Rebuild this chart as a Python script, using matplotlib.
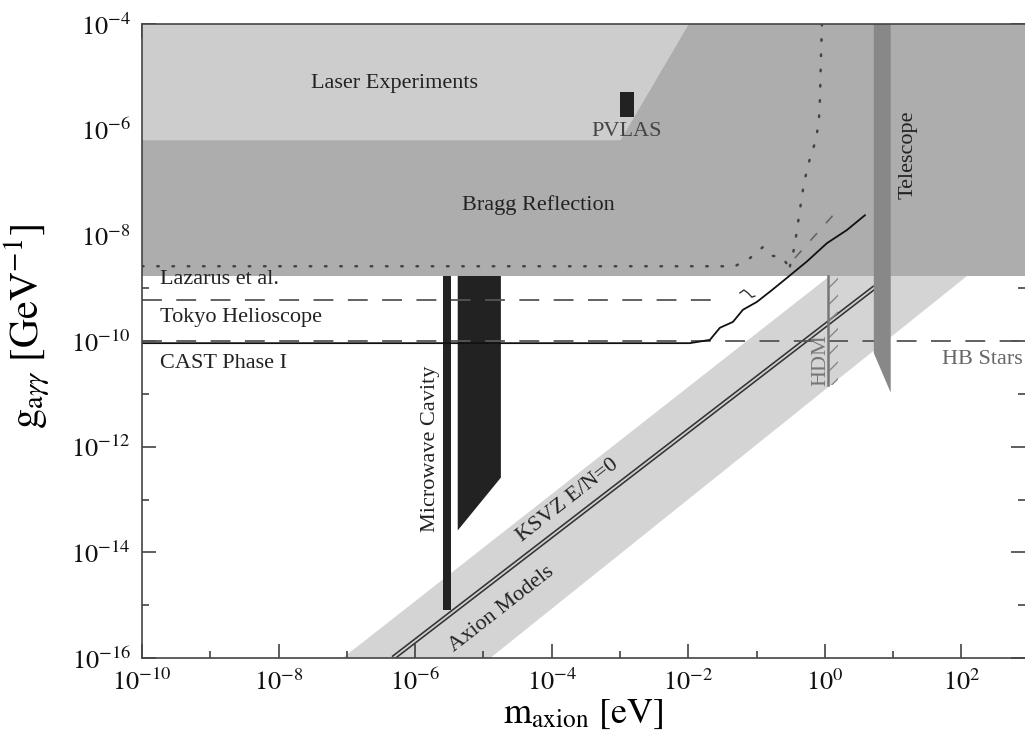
import numpy as np
import matplotlib
matplotlib.use("Agg")
import matplotlib.pyplot as plt
from matplotlib.ticker import FixedLocator, FuncFormatter, NullFormatter

plt.rcParams['font.family'] = ['Liberation Serif', 'DejaVu Serif']
plt.rcParams['mathtext.fontset'] = 'stix'
plt.rcParams['hatch.linewidth'] = 1.0

# ---------------- data ----------------
x_range = [1e-10, 10**2.93]
y_range = [1e-16, 1e-4]

# excluded region (Bragg reflection / Lazarus), full width
bragg_g_low = 1.7e-9
bragg_g_high = 1e-4

# laser experiments region (polygon)
laser_m = [1e-10, 1.02e-2, 1.02e-3, 1e-10]
laser_g = [1e-4, 1e-4, 6.3e-7, 6.3e-7]

# PVLAS box
pvlas_m = [1.0e-3, 1.6e-3]
pvlas_g = [1.7e-6, 5.1e-6]

# telescope polygon
tele_m = [5.2, 9.2, 9.2, 5.2]
tele_g = [1e-4, 1e-4, 1.05e-11, 5.9e-11]

# microwave cavity
cav1_m = [2.55e-6, 3.3e-6]
cav1_g = [8.1e-16, 1.7e-9]
cav2_m = [4.2e-6, 1.8e-5, 1.8e-5, 4.2e-6]
cav2_g = [1.7e-9, 1.7e-9, 2.6e-13, 2.6e-14]

# axion models band (upper-left edge and lower-right edge end points)
band_m = [10**-7.06, 10**0.07, 10**2.08, 10**-4.9]
band_g = [1e-16, 10**-8.77, 10**-8.77, 1e-16]

# KSVZ line
ksvz_m = [10**-6.325, 10**0.732]
ksvz_g = [1e-16, 10**-8.98]

# CAST phase I limit
cast_m = [1e-10, 1.05e-2, 2.07e-2, 2.9e-2, 4.5e-2, 6.3e-2, 0.101, 0.173, 0.287,
          0.545, 1.07, 2.1, 3.85]
cast_g = [9.1e-11, 9.1e-11, 1.05e-10, 1.78e-10, 2.3e-10, 3.9e-10, 5.5e-10,
          9.5e-10, 1.62e-9, 3.2e-9, 7.1e-9, 1.26e-8, 2.4e-8]

# Lazarus et al. (dotted)
laz_m = [1e-10, 0.048, 0.0798, 0.1236, 0.1675, 0.2344, 0.3076]
laz_g = [2.6e-9, 2.6e-9, 3.7e-9, 6.0e-9, 4.1e-9, 3.9e-9, 2.4e-9]

# dotted curve from top
dtop_m = [10**-0.044, 10**-0.059, 10**-0.073, 10**-0.088, 10**-0.132, 10**-0.205,
          10**-0.264, 10**-0.322, 10**-0.366, 10**-0.41, 10**-0.44, 10**-0.483,
          10**-0.527]
dtop_g = [1e-4, 10**-4.68, 10**-5.44, 10**-5.82, 10**-6.20, 10**-6.48,
          10**-6.76, 10**-7.14, 10**-7.52, 10**-7.90, 10**-8.18, 10**-8.43,
          10**-8.66]

# gray dashed segment
gd_m = [10**-0.44, 10**0.146]
gd_g = [10**-8.43, 10**-7.58]

# Tokyo helioscope (dashed)
tokyo_m = [1e-10, 0.032]
tokyo_g = [5.97e-10, 5.97e-10]
squig_m = [10**-1.245, 10**-1.186, 10**-1.128, 10**-1.069, 10**-1.025]
squig_g = [10**-9.09, 10**-9.035, 10**-9.09, 10**-9.17, 10**-9.15]

# HB stars (dashed)
hb_m = [1e-10, 10**2.93]
hb_g = [1e-10, 1e-10]

# HDM
hdm_m = 1.1
hdm_m_hatch = 1.55
hdm_g = [1.5e-11, 1.7e-9]

x_major = [1e-10, 1e-8, 1e-6, 1e-4, 1e-2, 1e0, 1e2]
x_minor = [1e-9, 1e-7, 1e-5, 1e-3, 1e-1, 1e1]
y_major = [1e-16, 1e-14, 1e-12, 1e-10, 1e-8, 1e-6, 1e-4]
y_minor = [1e-15, 1e-13, 1e-11, 1e-9, 1e-7, 1e-5]

# ---------------- figure ----------------
fig = plt.figure(figsize=(10.25, 7.46), dpi=100)
ax = fig.add_axes([142/1025, 88/746, 883/1025, 634/746])
ax.set_xscale('log')
ax.set_yscale('log')
ax.set_xlim(*x_range)
ax.set_ylim(*y_range)

# axion models band
ax.fill(band_m, band_g, color='#d4d4d4', lw=0, zorder=1)
# KSVZ double line
ax.plot(ksvz_m, ksvz_g, color='#333333', lw=3.6, zorder=2, solid_capstyle='butt')
ax.plot(ksvz_m, ksvz_g, color='#cfcfcf', lw=1.3, zorder=2.1, solid_capstyle='butt')

# Bragg region
ax.fill_between(x_range, bragg_g_low, bragg_g_high, color='#adadad', lw=0, zorder=3)
# Laser region
ax.fill(laser_m, laser_g, color='#cdcdcd', lw=0, zorder=3.5)

# Microwave cavity
ax.fill_between(cav1_m, cav1_g[0], cav1_g[1], color='#222222', lw=0, zorder=4)
ax.fill(cav2_m, cav2_g, color='#222222', lw=0, zorder=4)

# PVLAS
ax.fill_between(pvlas_m, pvlas_g[0], pvlas_g[1], color='#222222', lw=0, zorder=5)

# Lines
ax.plot(hb_m, hb_g, color='#555555', lw=1.3, dashes=(11, 8), zorder=5.5)
ax.plot(tokyo_m, tokyo_g, color='#555555', lw=1.3, dashes=(11, 8), zorder=5.5)
ax.plot(squig_m, squig_g, color='#333333', lw=1.0, zorder=5.5)
ax.plot(cast_m, cast_g, color='#111111', lw=1.3, zorder=6)
ax.plot(laz_m, laz_g, color='#444444', lw=1.8, dashes=(0.6, 5.5),
        dash_capstyle='round', zorder=6)
ax.plot(dtop_m, dtop_g, color='#444444', lw=1.8, dashes=(0.6, 5.5),
        dash_capstyle='round', zorder=6)
ax.plot(gd_m, gd_g, color='#666666', lw=1.2, dashes=(6, 8), zorder=6)

# Telescope
ax.fill(tele_m, tele_g, color='#888888', lw=0, zorder=6.5)

# HDM
ax.plot([hdm_m, hdm_m], hdm_g, color='#777777', lw=1.8, zorder=6)
ax.fill_betweenx(hdm_g, hdm_m, hdm_m_hatch, facecolor='none', edgecolor='#888888',
                 hatch='//', lw=0, zorder=5.8)

# Texts
tkw = dict(fontsize=16, zorder=8)
ax.text(5.06e-7, 7.6e-6, 'Laser Experiments', ha='center', va='center', color='#222222', **tkw)
ax.text(1.26e-3, 9.4e-7, 'PVLAS', ha='center', va='center', color='#444444', **tkw)
ax.text(6.3e-5, 3.75e-8, 'Bragg Reflection', ha='center', va='center', color='#222222', **tkw)
ax.text(16.4, 3.3e-7, 'Telescope', ha='center', va='center', rotation=90, color='#222222', **tkw)
ax.text(1.84e-10, 1.2e-9, 'Lazarus et al.', ha='left', va='baseline', color='#222222', **tkw)
ax.text(1.84e-10, 2.3e-10, 'Tokyo Helioscope', ha='left', va='baseline', color='#222222', **tkw)
ax.text(1.84e-10, 3.1e-11, 'CAST Phase I', ha='left', va='baseline', color='#222222', **tkw)
ax.text(1.65e-6, 9.3e-13, 'Microwave Cavity', ha='center', va='center', rotation=90, color='#222222', **tkw)
ax.text(205, 4.4e-11, 'HB Stars', ha='center', va='center', color='#666666', **tkw)
ax.text(0.873, 4.4e-11, 'HDM', ha='center', va='center', rotation=90, color='#777777', **tkw)
ax.text(1.91e-4, 8.2e-14, 'KSVZ E/N=0', ha='center', va='baseline', rotation=38,
        rotation_mode='anchor', color='#222222', **tkw)
ax.text(2.03e-5, 7.1e-16, 'Axion Models', ha='center', va='baseline', rotation=38,
        rotation_mode='anchor', color='#222222', **tkw)

# ticks
fmt = FuncFormatter(lambda v, p: r'$10^{%d}$' % int(round(np.log10(v))))
ax.xaxis.set_major_locator(FixedLocator(x_major))
ax.xaxis.set_minor_locator(FixedLocator(x_minor))
ax.yaxis.set_major_locator(FixedLocator(y_major))
ax.yaxis.set_minor_locator(FixedLocator(y_minor))
ax.xaxis.set_major_formatter(fmt)
ax.yaxis.set_major_formatter(fmt)
ax.xaxis.set_minor_formatter(NullFormatter())
ax.yaxis.set_minor_formatter(NullFormatter())
ax.tick_params(which='both', direction='in', top=True, right=True, colors='#333333',
               width=1.1, labelsize=19, labelcolor='#111111')
ax.tick_params(which='major', length=10, pad=8)
ax.tick_params(which='minor', length=5)
for s in ax.spines.values():
    s.set_color('#444444')
    s.set_linewidth(1.2)
    s.set_zorder(10)
ax.spines['right'].set_visible(False)

ax.set_xlabel(r'$\mathrm{m}_{\mathrm{axion}}\ [\mathrm{eV}]$', fontsize=26, labelpad=2)
ax.set_ylabel(r'$\mathrm{g}_{\mathrm{a}\gamma\gamma}\ [\mathrm{GeV}^{-1}]$', fontsize=29)
ax.yaxis.set_label_coords(-0.102, 0.522)

fig.savefig('out.png', dpi=100)
